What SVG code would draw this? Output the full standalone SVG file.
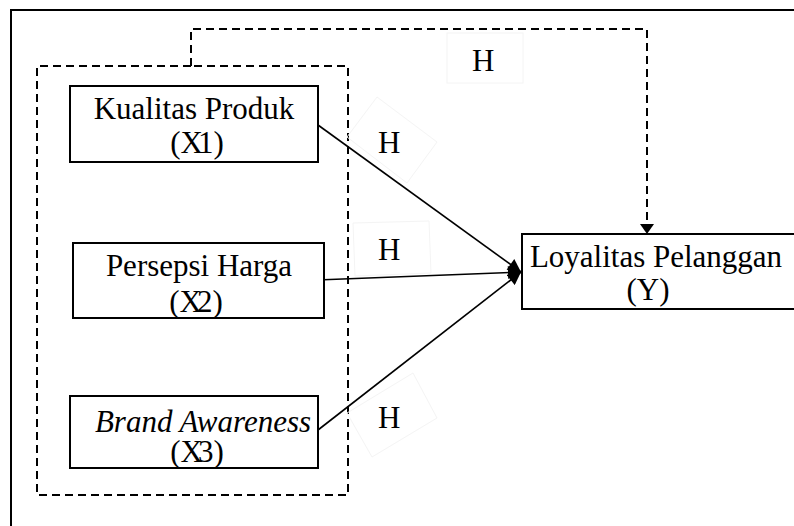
<svg xmlns="http://www.w3.org/2000/svg" width="794" height="526" viewBox="0 0 794 526">
<defs>
<style>
.box{fill:#fff;stroke:#000;stroke-width:2}
.t{font-size:31px;fill:#000;text-anchor:middle}
.h{font-size:31px;fill:#000}
.dash{fill:none;stroke:#000;stroke-width:2;stroke-dasharray:8 5}
.ln{fill:none;stroke:#000;stroke-width:1.6}
.faint{fill:none;stroke:#f4f4f4;stroke-width:1}
</style>
<marker id="ah2" viewBox="0 0 10 10" refX="10" refY="5" markerWidth="14" markerHeight="13" orient="auto" markerUnits="userSpaceOnUse">
<path d="M0,0 L10,5 L0,10 z" fill="#000"/>
</marker>
</defs>
<rect width="794" height="526" fill="#fff"/>
<path d="M11,526 V10 H794" fill="none" stroke="#000" stroke-width="2"/>
<g id="group-box">
<path class="dash" d="M191,66 H37 V495 H348 V66 H191"/>
</g>
<g id="faint-boxes">
<rect class="faint" x="447" y="33" width="76" height="50"/>
<polygon class="faint" points="377,97 437,142 407,183 347,137"/>
<polygon class="faint" points="353,223 429,221 431,273 355,276"/>
<polygon class="faint" points="413,373 437,418 372,457 347,413"/>
</g>
<g id="connectors">
<path class="dash" d="M191,66 V29 H647 V224" stroke-width="1.8"/>
<polygon points="640,224 654,224 647,234" fill="#000"/>
<line class="ln" x1="318" y1="125" x2="521" y2="272" marker-end="url(#ah2)"/>
<line class="ln" x1="317" y1="280" x2="521" y2="272" marker-end="url(#ah2)"/>
<line class="ln" x1="318" y1="430" x2="521" y2="272" marker-end="url(#ah2)"/>
</g>
<g font-family="'Liberation Serif', 'Times New Roman', serif">
<g id="node-x1">
<rect class="box" x="70" y="86" width="248" height="76"/>
<text class="t" x="194" y="119">Kualitas Produk</text>
<text class="t" x="197" y="153">(X<tspan dx="-5">1</tspan>)</text>
</g>
<g id="node-x2">
<rect class="box" x="73" y="243" width="251" height="75"/>
<text class="t" x="199" y="276">Persepsi Harga</text>
<text class="t" x="196" y="312">(X<tspan dx="-5">2</tspan>)</text>
</g>
<g id="node-x3">
<rect class="box" x="70" y="396" width="248" height="72"/>
<text class="t" x="203" y="432" font-style="italic">Brand Awareness</text>
<text class="t" x="197" y="462">(X<tspan dx="-5">3</tspan>)</text>
</g>
<g id="node-y">
<rect class="box" x="522" y="234" width="280" height="75"/>
<text class="t" x="656" y="267">Loyalitas Pelanggan</text>
<text class="t" x="648" y="300">(Y)</text>
</g>
<g id="labels">
<text class="h" x="472" y="71">H</text>
<text class="h" x="378" y="153">H</text>
<text class="h" x="378" y="260">H</text>
<text class="h" x="378" y="428">H</text>
</g>
</g>
</svg>
